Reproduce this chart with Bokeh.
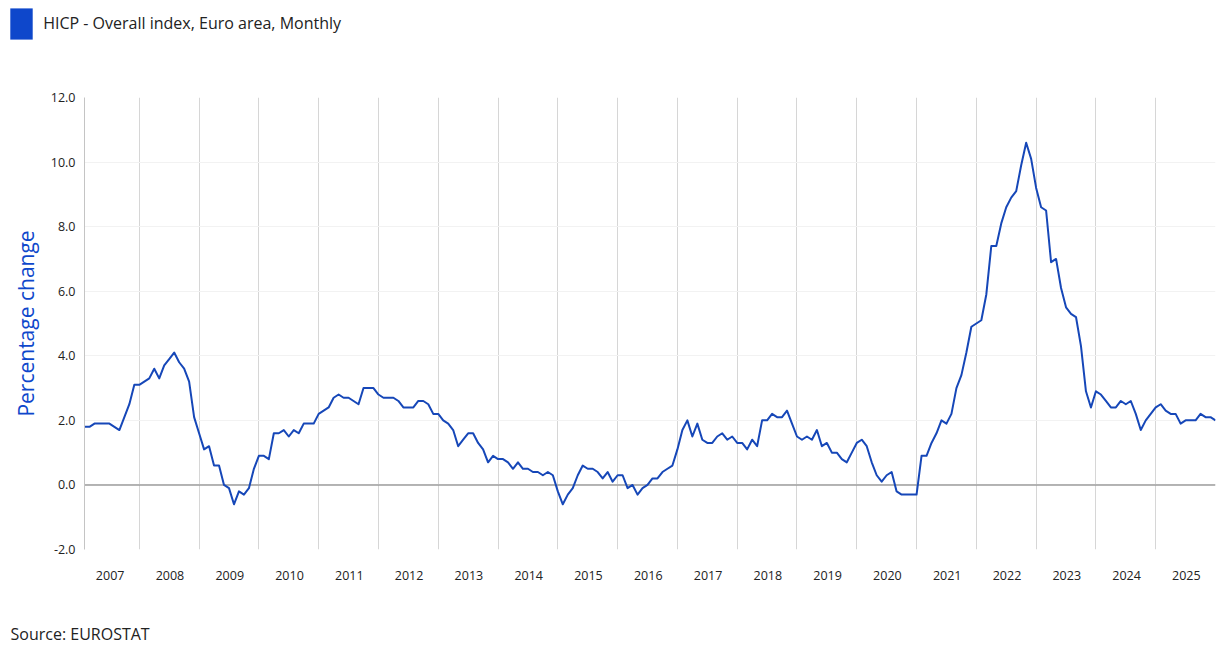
from bokeh.plotting import figure
from bokeh.layouts import column
from bokeh.models import (FixedTicker, NumeralTickFormatter, Span, Legend,
                          LegendItem, Range1d, Label)
from bokeh.embed import file_html
from bokeh.resources import INLINE

BLUE = "#0E47CB"
LINE_BLUE = "#1647B8"
FONT = "Open Sans"
TEXT = "#222222"

# HICP - Overall index, Euro area, annual rate of change (%), monthly
y2007 = [1.8, 1.8, 1.9, 1.9, 1.9, 1.9, 1.8, 1.7, 2.1, 2.5, 3.1, 3.1]
y2008 = [3.2, 3.3, 3.6, 3.3, 3.7, 3.9, 4.1, 3.8, 3.6, 3.2, 2.1, 1.6]
y2009 = [1.1, 1.2, 0.6, 0.6, 0.0, -0.1, -0.6, -0.2, -0.3, -0.1, 0.5, 0.9]
y2010 = [0.9, 0.8, 1.6, 1.6, 1.7, 1.5, 1.7, 1.6, 1.9, 1.9, 1.9, 2.2]
y2011 = [2.3, 2.4, 2.7, 2.8, 2.7, 2.7, 2.6, 2.5, 3.0, 3.0, 3.0, 2.8]
y2012 = [2.7, 2.7, 2.7, 2.6, 2.4, 2.4, 2.4, 2.6, 2.6, 2.5, 2.2, 2.2]
y2013 = [2.0, 1.9, 1.7, 1.2, 1.4, 1.6, 1.6, 1.3, 1.1, 0.7, 0.9, 0.8]
y2014 = [0.8, 0.7, 0.5, 0.7, 0.5, 0.5, 0.4, 0.4, 0.3, 0.4, 0.3, -0.2]
y2015 = [-0.6, -0.3, -0.1, 0.3, 0.6, 0.5, 0.5, 0.4, 0.2, 0.4, 0.1, 0.3]
y2016 = [0.3, -0.1, 0.0, -0.3, -0.1, 0.0, 0.2, 0.2, 0.4, 0.5, 0.6, 1.1]
y2017 = [1.7, 2.0, 1.5, 1.9, 1.4, 1.3, 1.3, 1.5, 1.6, 1.4, 1.5, 1.3]
y2018 = [1.3, 1.1, 1.4, 1.2, 2.0, 2.0, 2.2, 2.1, 2.1, 2.3, 1.9, 1.5]
y2019 = [1.4, 1.5, 1.4, 1.7, 1.2, 1.3, 1.0, 1.0, 0.8, 0.7, 1.0, 1.3]
y2020 = [1.4, 1.2, 0.7, 0.3, 0.1, 0.3, 0.4, -0.2, -0.3, -0.3, -0.3, -0.3]
y2021 = [0.9, 0.9, 1.3, 1.6, 2.0, 1.9, 2.2, 3.0, 3.4, 4.1, 4.9, 5.0]
y2022 = [5.1, 5.9, 7.4, 7.4, 8.1, 8.6, 8.9, 9.1, 9.9, 10.6, 10.1, 9.2]
y2023 = [8.6, 8.5, 6.9, 7.0, 6.1, 5.5, 5.3, 5.2, 4.3, 2.9, 2.4, 2.9]
y2024 = [2.8, 2.6, 2.4, 2.4, 2.6, 2.5, 2.6, 2.2, 1.7, 2.0, 2.2, 2.4]
y2025 = [2.5, 2.3, 2.2, 2.2, 1.9, 2.0, 2.0, 2.0, 2.2, 2.1, 2.1, 2.0]

year_labels = ["2007", "2008", "2009", "2010", "2011", "2012", "2013", "2014",
               "2015", "2016", "2017", "2018", "2019", "2020", "2021", "2022",
               "2023", "2024", "2025"]
y_ticks = [-2, 0, 2, 4, 6, 8, 10, 12]

series_title = "HICP - Overall index, Euro area, Monthly"
y_title = "Percentage change"
source_text = "Source: EUROSTAT"

values = (y2007 + y2008 + y2009 + y2010 + y2011 + y2012 + y2013 + y2014 + y2015 +
          y2016 + y2017 + y2018 + y2019 + y2020 + y2021 + y2022 + y2023 + y2024 + y2025)
month_index = list(range(len(values)))

label_pos = [12 * k + 5.15 for k in range(len(year_labels))]
grid_pos = [12 * k + 11 for k in range(len(year_labels) - 1)]

W = 1230
HEAD_H = 46
FOOT_H = 67
MAIN_H = 667 - HEAD_H - FOOT_H


def blank_strip(height):
    f = figure(width=W, height=height, output_backend="svg", toolbar_location=None,
               x_range=Range1d(0, 1), y_range=Range1d(0, 1),
               x_axis_location=None, y_axis_location=None,
               min_border_left=0, min_border_right=0, min_border_top=0,
               min_border_bottom=0, background_fill_color="white",
               border_fill_color="white")
    f.frame_align = False
    f.outline_line_color = None
    f.xgrid.visible = False
    f.ygrid.visible = False
    return f


# ---------------- header: legend swatch + series name ----------------
head = blank_strip(HEAD_H)
swatch = head.quad(left=[-10], right=[-9], top=[-10], bottom=[-11],
                   fill_color=BLUE, line_color=None)
legend = Legend(items=[LegendItem(label=series_title, renderers=[swatch])],
                location=(7.2, 3.2), glyph_width=28, glyph_height=39,
                label_standoff=8, padding=0, margin=0, spacing=0,
                border_line_alpha=0, background_fill_alpha=0,
                label_text_font=FONT, label_text_font_size="16px",
                label_text_color=TEXT, label_height=39)
head.add_layout(legend)

# ---------------- main chart ----------------
p = figure(width=W, height=MAIN_H, output_backend="svg", toolbar_location=None,
           x_range=Range1d(0, len(values) - 1), y_range=Range1d(-2, 12),
           min_border_left=84, min_border_right=15, min_border_top=51,
           min_border_bottom=MAIN_H - 51 - 452, background_fill_color="white",
           border_fill_color="white")
p.frame_align = False
p.outline_line_color = None

p.xgrid.ticker = FixedTicker(ticks=grid_pos, minor_ticks=[])
p.xgrid.grid_line_color = "#d6d6d6"
p.xgrid.grid_line_width = 1
p.ygrid.grid_line_color = "#f2f2f2"
p.ygrid.grid_line_width = 1

p.add_layout(Span(location=0, dimension="width", line_color="#9c9c9c",
                  line_width=1.5, level="underlay"))

p.line(month_index, values, line_width=2, line_color=LINE_BLUE, line_join="round")

# y axis
p.yaxis.ticker = FixedTicker(ticks=y_ticks, minor_ticks=[])
p.yaxis.formatter = NumeralTickFormatter(format="0.0")
p.yaxis.major_tick_out = 0
p.yaxis.major_tick_in = 0
p.yaxis.major_tick_line_color = None
p.yaxis.minor_tick_line_color = None
p.yaxis.axis_line_color = "#c4c4c4"
p.yaxis.major_label_standoff = 9
p.yaxis.major_label_text_font = FONT
p.yaxis.major_label_text_font_size = "12.5px"
p.yaxis.major_label_text_color = TEXT
p.yaxis.axis_label = y_title
p.yaxis.axis_label_text_font = FONT
p.yaxis.axis_label_text_font_size = "21px"
p.yaxis.axis_label_text_font_style = "normal"
p.yaxis.axis_label_text_color = BLUE
p.yaxis.axis_label_standoff = 8

# x axis
p.xaxis.ticker = FixedTicker(ticks=label_pos, minor_ticks=[])
p.xaxis.major_label_overrides = dict(zip(label_pos, year_labels))
p.xaxis.axis_line_color = None
p.xaxis.major_tick_out = 0
p.xaxis.major_tick_in = 0
p.xaxis.major_tick_line_color = None
p.xaxis.minor_tick_line_color = None
p.xaxis.major_label_standoff = 21
p.xaxis.major_label_text_font = FONT
p.xaxis.major_label_text_font_size = "12.5px"
p.xaxis.major_label_text_color = TEXT

# ---------------- footer: source note ----------------
foot = blank_strip(FOOT_H)
foot.add_layout(Label(x=10, y=FOOT_H - 33, x_units="screen", y_units="screen",
                      text=source_text, text_align="left", text_baseline="middle",
                      text_font=FONT, text_font_size="16px", text_color=TEXT))

layout = column(head, p, foot, spacing=0)
open("out.html", "w").write(file_html(layout, INLINE))
